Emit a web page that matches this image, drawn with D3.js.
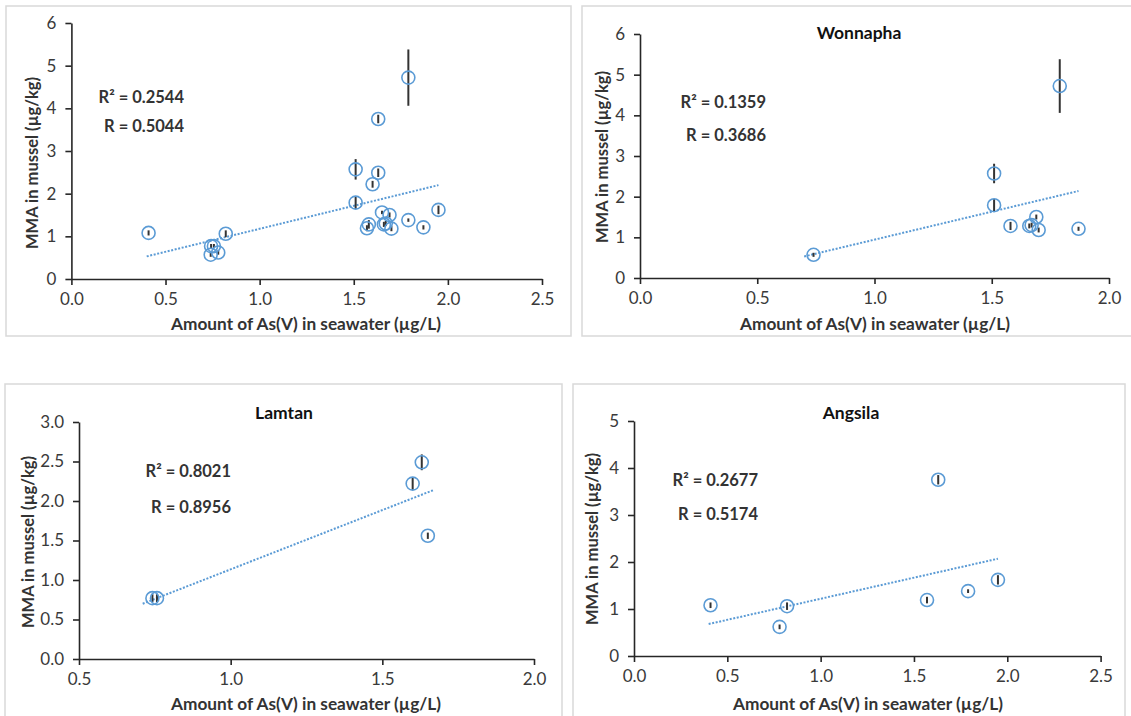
<!DOCTYPE html>
<html>
<head>
<meta charset="utf-8">
<script src="https://cdn.jsdelivr.net/npm/d3@7"></script>
<style>
body { margin: 0; background: #fff; }
svg text { font-family: Lato, "Open Sans", sans-serif; fill: #333; }
</style>
</head>
<body>
<script>

// Wonnapha site: As(V) in seawater, MMA in mussel, error bar half-length
var wonX   = [0.74, 1.51, 1.51, 1.79, 1.58, 1.66, 1.67, 1.69, 1.70, 1.87];
var wonY   = [0.57, 2.57, 1.79, 4.72, 1.28, 1.28, 1.30, 1.50, 1.18, 1.21];
var wonErr = [0.05, 0.24, 0.15, 0.66, 0.10, 0.06, 0.06, 0.06, 0.06, 0.05];

// Lamtan site
var lamX   = [0.742, 0.757, 1.60, 1.63, 1.65];
var lamY   = [0.77, 0.77, 2.22, 2.49, 1.56];
var lamErr = [0.05, 0.05, 0.08, 0.10, 0.04];

// Angsila site
var angX   = [0.41, 0.82, 0.78, 1.57, 1.79, 1.95, 1.63];
var angY   = [1.08, 1.06, 0.62, 1.19, 1.38, 1.62, 3.75];
var angErr = [0.06, 0.08, 0.05, 0.07, 0.04, 0.10, 0.10];

// all sites together (first panel)
var allX   = wonX.concat(lamX, angX);
var allY   = wonY.concat(lamY, angY);
var allErr = wonErr.concat(lamErr, angErr);

// trend line end points
var allTrendX = [0.40, 1.95], allTrendY = [0.53, 2.20];
var wonTrendX = [0.70, 1.87], wonTrendY = [0.53, 2.14];
var lamTrendX = [0.71, 1.67], lamTrendY = [0.70, 2.14];
var angTrendX = [0.40, 1.95], angTrendY = [0.68, 2.07];

// regression labels
var r2Labels = ["R² = 0.2544", "R² = 0.1359", "R² = 0.8021", "R² = 0.2677"];
var rLabels  = ["R = 0.5044", "R = 0.3686", "R = 0.8956", "R = 0.5174"];
var titles   = ["", "Wonnapha", "Lamtan", "Angsila"];

// axis ticks
var xTicksA = [0, 0.5, 1.0, 1.5, 2.0, 2.5];
var xTicksB = [0, 0.5, 1.0, 1.5, 2.0];
var xTicksC = [0.5, 1.0, 1.5, 2.0];
var yTicks6 = [0, 1, 2, 3, 4, 5, 6];
var yTicks3 = [0, 0.5, 1.0, 1.5, 2.0, 2.5, 3.0];
var yTicks5 = [0, 1, 2, 3, 4, 5];

var xTitle = "Amount of As(V) in seawater (µg/L)";
var yTitle = "MMA in mussel (µg/kg)";

var width = 1131;
var height = 716;

var svg = d3.select("body")
    .append("svg")
    .attr("width", width)
    .attr("height", height);

var panels = [
  { frame: [6, 6, 565, 330], xr: [71.4, 542], yr: [279, 23], xd: [0, 2.5], yd: [0, 6],
    xt: xTicksA, yt: yTicks6, yf: d3.format("d"),
    x: allX, y: allY, err: allErr, tx: allTrendX, ty: allTrendY,
    statX: 184, statY: [103, 132], titlePos: [0, 0],
    xTitlePos: [306, 323], yTitlePos: [31, 163] },
  { frame: [582, 6, 560, 330], xr: [640, 1109], yr: [278, 34], xd: [0, 2], yd: [0, 6],
    xt: xTicksB, yt: yTicks6, yf: d3.format("d"),
    x: wonX, y: wonY, err: wonErr, tx: wonTrendX, ty: wonTrendY,
    statX: 766, statY: [108, 141], titlePos: [859, 32],
    xTitlePos: [875, 323], yTitlePos: [601, 157] },
  { frame: [5, 384, 557, 340], xr: [79, 534], yr: [659, 422], xd: [0.5, 2], yd: [0, 3],
    xt: xTicksC, yt: yTicks3, yf: d3.format(".1f"),
    x: lamX, y: lamY, err: lamErr, tx: lamTrendX, ty: lamTrendY,
    statX: 231, statY: [477, 513], titlePos: [284, 412],
    xTitlePos: [306, 703], yTitlePos: [27, 542] },
  { frame: [573, 384, 552, 340], xr: [634, 1100.6], yr: [656, 421], xd: [0, 2.5], yd: [0, 5],
    xt: xTicksA, yt: yTicks5, yf: d3.format("d"),
    x: angX, y: angY, err: angErr, tx: angTrendX, ty: angTrendY,
    statX: 758, statY: [486, 520], titlePos: [851, 412],
    xTitlePos: [868, 703], yTitlePos: [591, 539] }
];

panels.forEach(function(p, i) {

  var g = svg.append("g");

  // light frame round each chart
  g.append("rect")
    .attr("x", p.frame[0]).attr("y", p.frame[1])
    .attr("width", p.frame[2]).attr("height", p.frame[3])
    .style("fill", "none")
    .style("stroke", "#d9d9d9")
    .style("stroke-width", 1.5);

  var x = d3.scaleLinear().domain(p.xd).range(p.xr);
  var y = d3.scaleLinear().domain(p.yd).range(p.yr);

  var xAxis = d3.axisBottom(x).tickValues(p.xt).tickFormat(d3.format(".1f"))
      .tickSize(6).tickSizeOuter(0).tickPadding(8);
  var yAxis = d3.axisLeft(y).tickValues(p.yt).tickFormat(p.yf)
      .tickSize(6).tickSizeOuter(0).tickPadding(9);

  var gx = g.append("g").attr("transform", "translate(0," + p.yr[0] + ")").call(xAxis);
  var gy = g.append("g").attr("transform", "translate(" + p.xr[0] + ",0)").call(yAxis);

  [gx, gy].forEach(function(a) {
    a.selectAll("path, line").style("stroke", "#262626").style("stroke-width", 1.6);
    a.selectAll("text").style("font-size", "17px").style("fill", "#3a3a3a")
      .style("font-family", "Lato, sans-serif");
  });

  // dotted trend line
  g.append("line")
    .attr("x1", x(p.tx[0])).attr("y1", y(p.ty[0]))
    .attr("x2", x(p.tx[1])).attr("y2", y(p.ty[1]))
    .style("stroke", "#5b9bd5")
    .style("stroke-width", 2)
    .style("stroke-dasharray", "2,1.6");

  var idx = d3.range(p.x.length);

  // error bars
  g.selectAll(".err")
    .data(idx)
    .enter()
    .append("line")
    .attr("class", "err")
    .attr("x1", function(d) { return x(p.x[d]); })
    .attr("x2", function(d) { return x(p.x[d]); })
    .attr("y1", function(d) { return y(p.y[d] - p.err[d]); })
    .attr("y2", function(d) { return y(p.y[d] + p.err[d]); })
    .style("stroke", "#333")
    .style("stroke-width", 2);

  // hollow markers
  g.selectAll(".pt")
    .data(idx)
    .enter()
    .append("circle")
    .attr("class", "pt")
    .attr("cx", function(d) { return x(p.x[d]); })
    .attr("cy", function(d) { return y(p.y[d]); })
    .attr("r", 6.5)
    .style("fill", "none")
    .style("stroke", "#5b9bd5")
    .style("stroke-width", 1.6);

  // R² and R text
  g.append("text")
    .attr("x", p.statX).attr("y", p.statY[0])
    .attr("text-anchor", "end")
    .style("font-size", "16.5px").style("font-weight", "bold")
    .text(r2Labels[i]);
  g.append("text")
    .attr("x", p.statX).attr("y", p.statY[1])
    .attr("text-anchor", "end")
    .style("font-size", "16.5px").style("font-weight", "bold")
    .text(rLabels[i]);

  if (titles[i]) {
    g.append("text")
      .attr("x", p.titlePos[0]).attr("y", p.titlePos[1])
      .attr("text-anchor", "middle")
      .attr("dominant-baseline", "central")
      .style("font-size", "17.5px").style("font-weight", "bold")
      .style("fill", "#111")
      .text(titles[i]);
  }

  // axis titles
  g.append("text")
    .attr("x", p.xTitlePos[0]).attr("y", p.xTitlePos[1])
    .attr("text-anchor", "middle")
    .attr("dominant-baseline", "central")
    .attr("textLength", 270)
    .attr("lengthAdjust", "spacingAndGlyphs")
    .style("font-size", "17px").style("font-weight", "bold")
    .text(xTitle);

  g.append("text")
    .attr("transform", "translate(" + p.yTitlePos[0] + "," + p.yTitlePos[1] + ") rotate(-90)")
    .attr("text-anchor", "middle")
    .attr("dominant-baseline", "central")
    .attr("textLength", 172)
    .attr("lengthAdjust", "spacingAndGlyphs")
    .style("font-size", "17px").style("font-weight", "bold")
    .text(yTitle);
});

</script>
</body>
</html>
